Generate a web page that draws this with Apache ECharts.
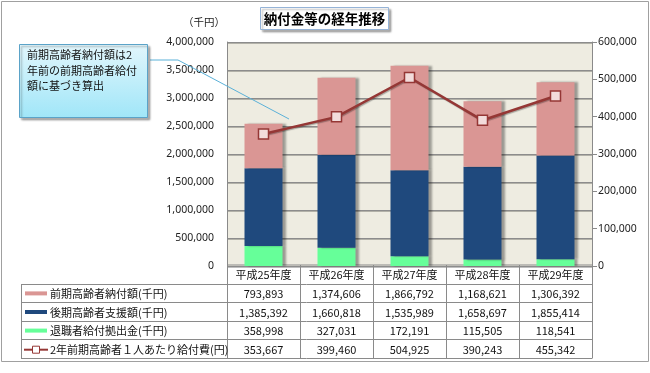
<!DOCTYPE html>
<html><head><meta charset="utf-8">
<script src="https://cdn.jsdelivr.net/npm/echarts@6/dist/echarts.min.js"></script>
<style>html,body{margin:0;padding:0;background:#fff}#c{width:650px;height:373px}</style>
</head><body><div id="c"></div>
<script>
// ---- data ----
const categories = ['平成25年度','平成26年度','平成27年度','平成28年度','平成29年度'];
const zenkiNofu = [793893,1374606,1866792,1168621,1306392];   // 前期高齢者納付額(千円)
const kokiShien = [1385392,1660818,1535989,1658697,1855414];  // 後期高齢者支援額(千円)
const taishoku  = [358998,327031,172191,115505,118541];       // 退職者給付拠出金(千円)
const kyufuhi   = [353667,399460,504925,390243,455342];       // 2年前期高齢者1人あたり給付費(円)
const seriesNames = ['前期高齢者納付額(千円)','後期高齢者支援額(千円)','退職者給付拠出金(千円)','2年前期高齢者１人あたり給付費(円)'];
const leftAxisMax = 4000000, leftAxisStep = 500000;
const rightAxisMax = 600000, rightAxisStep = 100000;
const titleText = '納付金等の経年推移';
const unitText = '（千円）';
const noteLines = ['前期高齢者納付額は2','年前の前期高齢者給付','額に基づき算出'];

// ---- style ----
const C_PINK = '#DA9694', C_BLUE = '#1F497D', C_GREEN = '#66FF99', C_RED = '#953735';
const JP = '"Noto Sans CJK JP","Noto Sans CJK SC",sans-serif';
const NUMF = '"Liberation Sans Narrow","Noto Sans CJK JP",sans-serif';
const G = {left:227, right:58, top:42, bottom:107};
const fmt = v => v.toLocaleString('en-US');

const chart = echarts.init(document.getElementById('c'), null, {renderer:'canvas'});
const barShadow = {shadowColor:'rgba(0,0,0,0.35)', shadowBlur:2, shadowOffsetX:3, shadowOffsetY:0};

chart.setOption({
  animation:false,
  backgroundColor:'#fff',
  grid:{left:G.left, right:G.right, top:G.top, bottom:G.bottom, show:true, backgroundColor:'#EEECE1', borderWidth:0},
  xAxis:{type:'category', data:categories, axisLine:{show:false}, axisTick:{show:false}, axisLabel:{show:false}},
  yAxis:[
    {type:'value', min:0, max:leftAxisMax, interval:leftAxisStep,
     axisLine:{show:true, lineStyle:{color:'#8a8a8a'}}, axisTick:{show:false},
     axisLabel:{margin:13, color:'#222', fontFamily:'"Noto Sans",sans-serif', fontSize:10.5, formatter:v=>fmt(v)},
     splitLine:{show:true, lineStyle:{color:'#8c8c8c', width:1, shadowColor:'rgba(0,0,0,0.25)', shadowOffsetY:1}}},
    {type:'value', min:0, max:rightAxisMax, interval:rightAxisStep, position:'right',
     axisLine:{show:true, lineStyle:{color:'#8a8a8a'}}, axisTick:{show:true, length:5, lineStyle:{color:'#8a8a8a'}},
     axisLabel:{margin:6, color:'#222', fontFamily:'"Noto Sans",sans-serif', fontSize:10.5, formatter:v=>fmt(v)},
     splitLine:{show:false}}
  ],
  series:[
    {name:seriesNames[2], type:'bar', stack:'s', data:taishoku, barWidth:38, itemStyle:Object.assign({color:C_GREEN}, barShadow)},
    {name:seriesNames[1], type:'bar', stack:'s', data:kokiShien, barWidth:38, itemStyle:Object.assign({color:C_BLUE}, barShadow)},
    {name:seriesNames[0], type:'bar', stack:'s', data:zenkiNofu, barWidth:38, itemStyle:Object.assign({color:C_PINK}, barShadow)},
    {name:seriesNames[3], type:'line', yAxisIndex:1, data:kyufuhi, symbol:'rect', symbolSize:10,
     lineStyle:{color:C_RED, width:2.5, shadowColor:'rgba(0,0,0,0.3)', shadowOffsetX:1, shadowOffsetY:1, shadowBlur:1},
     itemStyle:{color:'#F2DCDB', borderColor:C_RED, borderWidth:1.5}, z:5}
  ]
});

// ---- table, title, note built from the axis scale ----
const W = chart.getWidth(), H = chart.getHeight();
const plotL = G.left, plotR = W - G.right, plotB = H - G.bottom;
const colCenters = categories.map((c,i)=>chart.convertToPixel({xAxisIndex:0}, i));
const colW = (plotR - plotL) / categories.length;
const tableLeft = 21, tableTop = plotB - 1, rowH = 18.6;
const LINE = '#8a8a8a';
const gr = [];
// outer frame
gr.push({type:'rect', shape:{x:1.5,y:1.5,width:W-3,height:360}, style:{fill:null, stroke:'#a0a0a0', lineWidth:1}, z:-1});
// table lines
gr.push({type:'line', shape:{x1:plotL,y1:tableTop,x2:plotR,y2:tableTop}, style:{stroke:LINE,lineWidth:1}});
for (let r=1;r<=5;r++){
  const y = Math.round(tableTop + r*rowH)+0.5;
  gr.push({type:'line', shape:{x1:tableLeft,y1:y,x2:plotR,y2:y}, style:{stroke:LINE,lineWidth:1}});
}
const yEnd = Math.round(tableTop + 5*rowH)+0.5;
gr.push({type:'line', shape:{x1:tableLeft+0.5,y1:Math.round(tableTop+rowH)+0.5,x2:tableLeft+0.5,y2:yEnd}, style:{stroke:LINE,lineWidth:1}});
for (let k=0;k<=categories.length;k++){
  const x = Math.round(plotL + k*colW)+0.5;
  gr.push({type:'line', shape:{x1:x,y1:tableTop,x2:x,y2:yEnd}, style:{stroke:LINE,lineWidth:1}});
}
// header
categories.forEach((c,i)=>{
  gr.push({type:'text', style:{text:c, x:colCenters[i], y:tableTop+rowH/2+1, align:'center', verticalAlign:'middle', font:'11px '+JP, fill:'#111'}});
});
const rows = [zenkiNofu, kokiShien, taishoku, kyufuhi];
const rowColors = [C_PINK, C_BLUE, C_GREEN, C_RED];
rows.forEach((arr,r)=>{
  const yc = tableTop + (r+1)*rowH + rowH/2 + 1;
  arr.forEach((v,i)=>{
    gr.push({type:'text', style:{text:fmt(v), x:colCenters[i], y:yc, align:'center', verticalAlign:'middle', font:'11px '+NUMF, fill:'#111'}});
  });
  // legend key
  if (r<3){
    gr.push({type:'rect', shape:{x:25,y:yc-2.5,width:22,height:4}, style:{fill:rowColors[r]}});
  } else {
    gr.push({type:'line', shape:{x1:24,y1:yc,x2:48,y2:yc}, style:{stroke:C_RED,lineWidth:2}});
    gr.push({type:'rect', shape:{x:32.5,y:yc-3.5,width:7,height:7}, style:{fill:'#fff',stroke:C_RED,lineWidth:1}});
  }
  gr.push({type:'text', style:{text:seriesNames[r], x:50, y:yc, align:'left', verticalAlign:'middle', font:'11px '+JP, fill:'#111'}});
});
// title box
gr.push({type:'rect', shape:{x:260.5,y:7.5,width:128,height:22}, style:{fill:'#fff', stroke:'#95B3D7', lineWidth:1, shadowColor:'rgba(0,0,0,0.3)', shadowOffsetX:2, shadowOffsetY:2, shadowBlur:2}});
gr.push({type:'text', style:{text:titleText, x:324.5, y:19, align:'center', verticalAlign:'middle', font:'bold 13.5px '+JP, fill:'#000'}});
// unit
gr.push({type:'text', style:{text:unitText, x:204, y:22, align:'center', verticalAlign:'middle', font:'10.5px '+JP, fill:'#222'}});
// note callout
gr.push({type:'polyline', shape:{points:[[150,60],[178,60],[289,119]]}, style:{stroke:'#5BB1D8', lineWidth:1, fill:null}, z:10});
gr.push({type:'rect', shape:{x:19.5,y:44.5,width:128,height:73},
  style:{fill:new echarts.graphic.LinearGradient(0,0,0,1,[{offset:0,color:'#E2F6FC'},{offset:1,color:'#A0E6F8'}]),
         stroke:'#5BA3C8', lineWidth:1, shadowColor:'rgba(0,0,0,0.3)', shadowOffsetX:2, shadowOffsetY:2, shadowBlur:2}, z:10});
noteLines.forEach((t,i)=>{
  gr.push({type:'text', style:{text:t, x:27, y:55+i*15.5, align:'left', verticalAlign:'middle', font:'11px '+JP, fill:'#111'}, z:11});
});
chart.setOption({graphic:gr});
</script></body></html>
